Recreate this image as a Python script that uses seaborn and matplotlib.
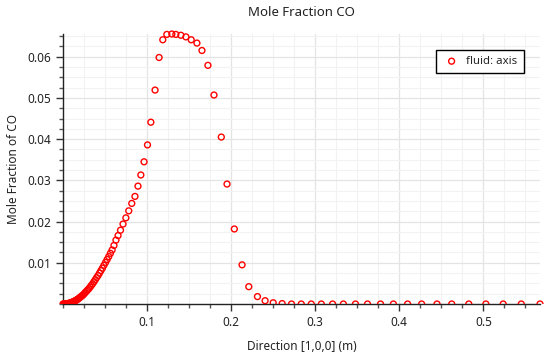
import numpy as np
import pandas as pd
import seaborn as sns
from matplotlib import pyplot as plt
from matplotlib.ticker import MultipleLocator
from matplotlib.patches import Rectangle

sns.set_style("white")
plt.rcParams['font.family'] = ['Noto Sans', 'DejaVu Sans']

# position along the axis (m)
direction = [
    0.0000, 0.0008, 0.0016, 0.0024, 0.0032, 0.0040, 0.0048, 0.0056, 0.0064, 0.0072,
    0.0080, 0.0089, 0.0098, 0.0107, 0.0116, 0.0126, 0.0136, 0.0146, 0.0157, 0.0168,
    0.0179, 0.0190, 0.0202, 0.0214, 0.0226, 0.0239, 0.0252, 0.0265, 0.0279, 0.0293,
    0.0307, 0.0322, 0.0337, 0.0352, 0.0368, 0.0384, 0.0400, 0.0417, 0.0434, 0.0451,
    0.0469, 0.0487, 0.0506, 0.0525, 0.0544, 0.0564, 0.0584, 0.0606, 0.0630, 0.0655,
    0.0684, 0.0714, 0.0748, 0.0782, 0.0818, 0.0856, 0.0892, 0.0926, 0.0964, 0.1005,
    0.1045, 0.1095, 0.1143, 0.1187, 0.1235, 0.1295, 0.1342, 0.1402, 0.1462, 0.1525,
    0.1593, 0.1653, 0.1724, 0.1796, 0.1883, 0.1951, 0.2038, 0.2130, 0.2210, 0.2313,
    0.2404, 0.2500, 0.2607, 0.2718, 0.2834, 0.2953, 0.3073, 0.3207, 0.3335, 0.3479,
    0.3622, 0.3777, 0.3930, 0.4099, 0.4266, 0.4449, 0.4624, 0.4827, 0.5030, 0.5236,
    0.5451, 0.5674,
]

# mole fraction of CO
mole_frac_co = [
    0.0000, 0.0000, 0.0000, 0.0000, 0.0000, 0.0001, 0.0001, 0.0001, 0.0001, 0.0002,
    0.0002, 0.0003, 0.0003, 0.0004, 0.0005, 0.0006, 0.0007, 0.0008, 0.0009, 0.0011,
    0.0012, 0.0014, 0.0016, 0.0018, 0.0020, 0.0022, 0.0025, 0.0028, 0.0031, 0.0034,
    0.0037, 0.0041, 0.0045, 0.0049, 0.0054, 0.0059, 0.0064, 0.0069, 0.0075, 0.0081,
    0.0087, 0.0094, 0.0101, 0.0108, 0.0115, 0.0123, 0.0131, 0.0142, 0.0155, 0.0166,
    0.0179, 0.0194, 0.0209, 0.0226, 0.0244, 0.0261, 0.0286, 0.0313, 0.0345, 0.0386,
    0.0441, 0.0519, 0.0598, 0.0641, 0.0654, 0.0655, 0.0654, 0.0652, 0.0648, 0.0641,
    0.0633, 0.0615, 0.0579, 0.0507, 0.0405, 0.0291, 0.0182, 0.0095, 0.0042, 0.0018,
    0.0008, 0.0003, 0.0001, 0.0000, 0.0000, 0.0000, 0.0000, 0.0000, 0.0000, 0.0000,
    0.0000, 0.0000, 0.0000, 0.0000, 0.0000, 0.0000, 0.0000, 0.0000, 0.0000, 0.0000,
    0.0000, 0.0000,
]

df = pd.DataFrame({"x": direction, "y": mole_frac_co})

fig = plt.figure(figsize=(5.49, 3.56), dpi=100)
ax = fig.add_axes([63 / 549, 52 / 356, 477 / 549, 270 / 356])

sns.scatterplot(data=df, x="x", y="y", ax=ax, marker="o", s=18,
                facecolor="none", edgecolor="red", linewidth=1.0,
                label="fluid: axis", zorder=3)

# points sitting on y=0 are cut by the bottom edge, the peak is not
clip = Rectangle((-0.05, 0), 1.1, 1.1, transform=ax.transAxes, visible=False)
ax.add_patch(clip)
for coll in ax.collections:
    coll.set_clip_path(clip)

ax.set_xlim(min(direction), max(direction))
ax.set_ylim(0, max(mole_frac_co))

ax.xaxis.set_major_locator(MultipleLocator(0.1))
ax.xaxis.set_minor_locator(MultipleLocator(0.025))
ax.yaxis.set_major_locator(MultipleLocator(0.01))
ax.yaxis.set_minor_locator(MultipleLocator(0.0025))

ax.set_xticks([0.1, 0.2, 0.3, 0.4, 0.5])
ax.set_xticklabels(["0.1", "0.2", "0.3", "0.4", "0.5"])
ax.set_yticks([0.01, 0.02, 0.03, 0.04, 0.05, 0.06])
ax.set_yticklabels(["0.01", "0.02", "0.03", "0.04", "0.05", "0.06"])

ax.grid(which="major", color="#e4e4e4", linewidth=0.9)
ax.grid(which="minor", color="#f2f2f2", linewidth=0.8)
ax.set_axisbelow(True)

for side in ["top", "right"]:
    ax.spines[side].set_visible(False)
for side in ["left", "bottom"]:
    ax.spines[side].set_color("#222222")
    ax.spines[side].set_linewidth(1.0)

ax.tick_params(which="major", direction="out", length=5, width=1, color="#333333",
               labelsize=8.5, labelcolor="#222222", bottom=True, left=True)
ax.tick_params(which="minor", direction="out", length=3, width=1, color="#555555",
               bottom=True, left=True)

ax.set_xlabel("Direction [1,0,0] (m)", fontsize=8.5, color="#222222", labelpad=8)
ax.set_ylabel("Mole Fraction of CO", fontsize=8.5, color="#222222", labelpad=5)
ax.set_title("Mole Fraction CO", fontsize=9.5, color="#222222", pad=13)

leg = ax.legend(loc="upper right", bbox_to_anchor=(0.966, 0.941), fontsize=8.2,
                frameon=True, fancybox=False, edgecolor="black", framealpha=1,
                handletextpad=0.5, borderpad=0.55, borderaxespad=0,
                handlelength=1.6)
leg.get_frame().set_linewidth(1.0)

plt.savefig("out.png", dpi=100)
